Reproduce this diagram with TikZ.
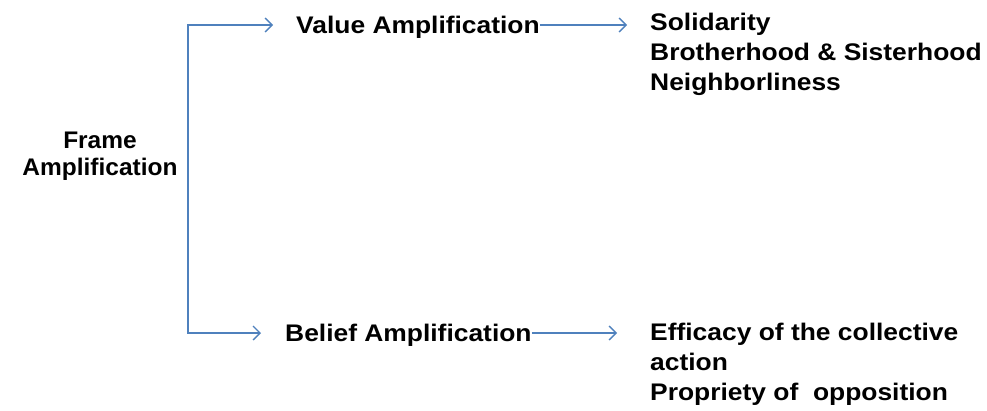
\documentclass[tikz,border=0pt]{standalone}
\usepackage{fontspec}
\setmainfont{Liberation Sans}
\newfontfamily\widefont{Liberation Sans}[FakeStretch=1.1]
\newfontfamily\framefont{Liberation Sans}[FakeStretch=1.02]
\usetikzlibrary{arrows.meta}
\definecolor{arrowblue}{RGB}{79,129,189}
\begin{document}
\begin{tikzpicture}[x=1pt,y=-1pt,
  lab/.style={inner sep=0pt, font=\widefont\bfseries\fontsize{24}{30}\selectfont, align=left},
  framelab/.style={inner sep=0pt, font=\framefont\bfseries\fontsize{24}{27}\selectfont, align=center},
  conn/.style={draw=arrowblue, line width=1.3pt, -{Straight Barb[length=7pt,width=14pt,line width=1.3pt]}}]
\useasboundingbox[fill=white] (0,0) rectangle (987,410);
% text
\node[framelab, anchor=north] (frame) at (100,131.5) {Frame\\Amplification};
\node[lab, anchor=base west] (value) at (296,33) {Value Amplification};
\node[lab, anchor=base west] (belief) at (285,341) {Belief Amplification};
\node[lab, anchor=north west] (values) at (650,12.5) {Solidarity\\Brotherhood \& Sisterhood\\Neighborliness};
\node[lab, anchor=north west] (beliefs) at (650,322.5) {Efficacy of the collective\\action\\Propriety of \ opposition};
% connector points
\coordinate (fork) at (188,179);
\coordinate (vin) at (273,25);
\coordinate (bin) at (261,333);
\coordinate (vout) at (627,25);
\coordinate (bout) at (617,333);
% connectors
\draw[conn] (fork) |- (vin);
\draw[conn] (fork) |- (bin);
\draw[conn] (value.east |- vin) -- (vout);
\draw[conn] (belief.east |- bin) -- (bout);
\end{tikzpicture}
\end{document}
